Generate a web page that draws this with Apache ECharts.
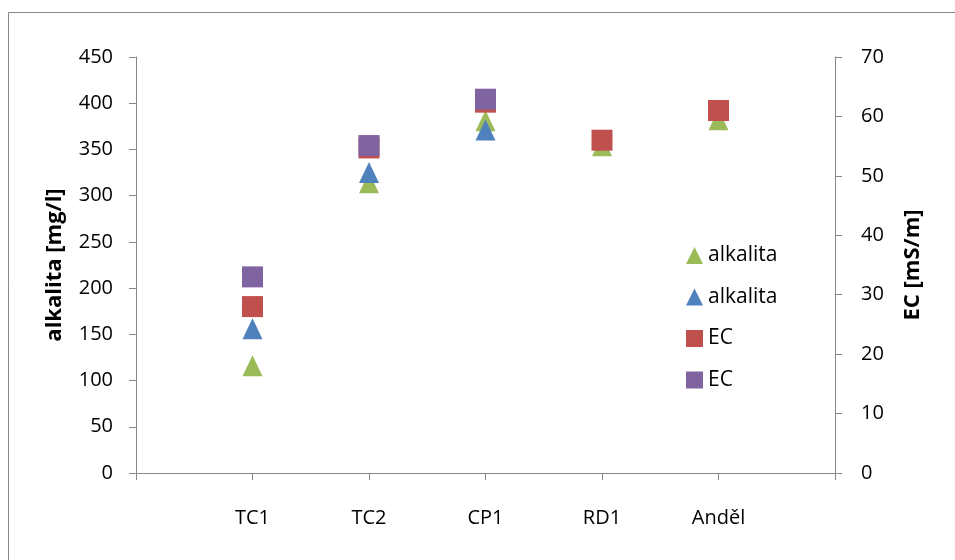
<!DOCTYPE html>
<html>
<head>
<meta charset="utf-8">
<script src="https://cdn.jsdelivr.net/npm/echarts@6/dist/echarts.min.js"></script>
<style>
html,body{margin:0;padding:0;background:#fff;}
#c{width:955px;height:560px;}
</style>
</head>
<body>
<div id="c"></div>
<script>
// categories on the x axis
const categories = ['TC1', 'TC2', 'CP1', 'RD1', 'Anděl'];
// left axis (alkalita [mg/l])
const alkalita1 = [116, 314, 381, 354, 382];
const alkalita2 = [156, 325, 371, null, null];
// right axis (EC [mS/m])
const ec1 = [28, 54.7, 62.4, 56, 61];
const ec2 = [33, 55.1, 62.9, null, null];
// tick settings
const leftMax = 450, leftStep = 50;
const rightMax = 70, rightStep = 10;

const FONT = '"Open Sans", sans-serif';
const toPairs = arr => arr.map((v, i) => [i + 1, v]).filter(p => p[1] !== null);

const chart = echarts.init(document.getElementById('c'));
const axisLineStyle = { color: '#868686', width: 1 };

chart.setOption({
  animation: false,
  backgroundColor: '#fff',
  textStyle: { fontFamily: FONT },
  graphic: [{
    type: 'rect',
    shape: { x: 8.5, y: 12.5, width: 1000, height: 600 },
    style: { fill: 'none', stroke: '#868686', lineWidth: 1 },
    silent: true
  }],
  grid: { left: 136, right: 120, top: 57, bottom: 87 },
  legend: {
    orient: 'vertical',
    left: 681,
    top: 240,
    itemWidth: 17,
    itemHeight: 17,
    itemGap: 20.5,
    textStyle: { fontSize: 21, color: '#000', fontFamily: FONT },
    formatter: name => name.split('_')[0],
    data: [
      { name: 'alkalita_1', icon: 'triangle' },
      { name: 'alkalita_2', icon: 'triangle' },
      { name: 'EC_1', icon: 'rect' },
      { name: 'EC_2', icon: 'rect' }
    ]
  },
  xAxis: {
    type: 'value',
    min: 0,
    max: categories.length + 1,
    interval: 1,
    splitLine: { show: false },
    axisLine: { lineStyle: axisLineStyle },
    axisTick: { show: true, length: 7, lineStyle: axisLineStyle },
    axisLabel: {
      fontSize: 20, color: '#000', margin: 35, fontFamily: FONT,
      formatter: v => categories[v - 1] || ''
    }
  },
  yAxis: [{
    type: 'value',
    min: 0, max: leftMax, interval: leftStep,
    name: 'alkalita [mg/l]',
    nameLocation: 'middle',
    nameGap: 70,
    nameTextStyle: { fontSize: 22, fontWeight: 'bold', color: '#000', fontFamily: FONT },
    splitLine: { show: false },
    axisLine: { show: true, lineStyle: axisLineStyle },
    axisTick: { show: true, length: 7, lineStyle: axisLineStyle },
    axisLabel: { fontSize: 20, color: '#000', margin: 23, fontFamily: FONT }
  }, {
    type: 'value',
    position: 'right',
    min: 0, max: rightMax, interval: rightStep,
    name: 'EC [mS/m]',
    nameLocation: 'middle',
    nameGap: 67,
    nameTextStyle: { fontSize: 22, fontWeight: 'bold', color: '#000', fontFamily: FONT },
    splitLine: { show: false },
    axisLine: { show: true, lineStyle: axisLineStyle },
    axisTick: { show: true, length: 7, lineStyle: axisLineStyle },
    axisLabel: { fontSize: 20, color: '#000', margin: 26, fontFamily: FONT }
  }],
  series: [{
    name: 'alkalita_1', type: 'scatter', yAxisIndex: 0,
    symbol: 'triangle', symbolSize: [20, 21],
    itemStyle: { color: '#9BBB59', opacity: 1 },
    data: toPairs(alkalita1)
  }, {
    name: 'alkalita_2', type: 'scatter', yAxisIndex: 0,
    symbol: 'triangle', symbolSize: [20, 21],
    itemStyle: { color: '#4F81BD', opacity: 1 },
    data: toPairs(alkalita2)
  }, {
    name: 'EC_1', type: 'scatter', yAxisIndex: 1,
    symbol: 'rect', symbolSize: 21,
    itemStyle: { color: '#C0504D', opacity: 1 },
    data: toPairs(ec1)
  }, {
    name: 'EC_2', type: 'scatter', yAxisIndex: 1,
    symbol: 'rect', symbolSize: 21,
    itemStyle: { color: '#8064A2', opacity: 1 },
    data: toPairs(ec2)
  }]
});
</script>
</body>
</html>
